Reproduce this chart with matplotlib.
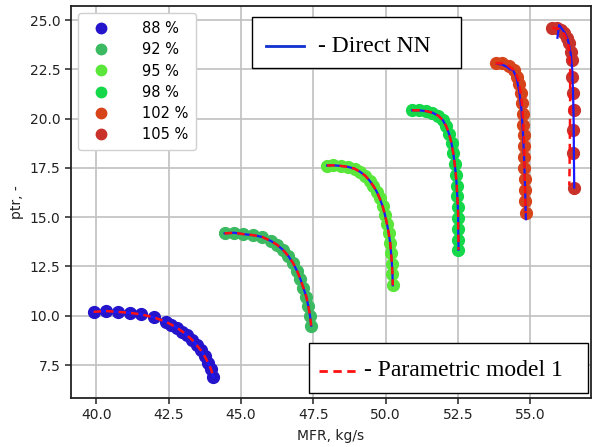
import matplotlib
matplotlib.use("Agg")
import matplotlib.pyplot as plt
from matplotlib.lines import Line2D
from matplotlib.patches import Rectangle

# ---- data ----
speeds = ["88 %", "92 %", "95 %", "98 %", "102 %", "105 %"]
colors = ["#2414cc", "#3cba62", "#5ae63a", "#14d84a", "#d8441a", "#c8322a"]

mfr_88 = [39.91, 40.34, 40.74, 41.16, 41.56, 41.99, 42.40, 42.60, 42.80, 42.98, 43.15, 43.32,
          43.47, 43.62, 43.75, 43.87, 43.97, 44.05]
ptr_88 = [10.20, 10.24, 10.20, 10.15, 10.07, 9.92, 9.70, 9.55, 9.38, 9.20, 9.00, 8.77,
          8.52, 8.24, 7.94, 7.62, 7.28, 6.92]

mfr_92 = [44.44, 44.77, 45.09, 45.41, 45.73, 46.04, 46.25, 46.45, 46.63, 46.80, 46.94, 47.06,
          47.16, 47.26, 47.33, 47.39, 47.43]
ptr_92 = [14.18, 14.21, 14.14, 14.09, 14.00, 13.79, 13.60, 13.35, 13.05, 12.68, 12.28, 11.85,
          11.42, 10.97, 10.50, 10.00, 9.50]

mfr_95 = [47.98, 48.20, 48.45, 48.70, 48.93, 49.12, 49.30, 49.45, 49.58, 49.70, 49.80, 49.90,
          49.98, 50.05, 50.11, 50.16, 50.19, 50.22, 50.24, 50.25]
ptr_95 = [17.62, 17.63, 17.60, 17.55, 17.46, 17.30, 17.10, 16.85, 16.58, 16.28, 15.95, 15.55,
          15.12, 14.65, 14.18, 13.70, 13.20, 12.65, 12.10, 11.55]

mfr_98 = [50.92, 51.15, 51.40, 51.62, 51.82, 51.98, 52.10, 52.20, 52.28, 52.34, 52.39, 52.43,
          52.46, 52.48, 52.50, 52.51, 52.51, 52.52, 52.52]
ptr_98 = [20.42, 20.42, 20.38, 20.30, 20.15, 19.92, 19.60, 19.20, 18.75, 18.25, 17.70, 17.15,
          16.60, 16.05, 15.50, 14.95, 14.40, 13.85, 13.35]

mfr_102 = [53.80, 54.03, 54.26, 54.43, 54.55, 54.62, 54.67, 54.71, 54.74, 54.76, 54.78, 54.79,
           54.80, 54.80, 54.81, 54.82, 54.83, 54.84]
ptr_102 = [22.80, 22.80, 22.66, 22.46, 22.12, 21.75, 21.30, 20.80, 20.25, 19.70, 19.15, 18.60,
           18.05, 17.50, 16.95, 16.40, 15.80, 15.20]

mfr_105 = [55.76, 55.94, 56.05, 56.17, 56.26, 56.34, 56.40, 56.43, 56.46, 56.48, 56.50, 56.49,
           56.48, 56.51]
ptr_105 = [24.57, 24.57, 24.50, 24.32, 24.10, 23.81, 23.40, 22.97, 22.12, 21.28, 20.43, 19.42,
           18.24, 16.46]

# Direct NN lines that differ from the measured points
nn_mfr_102 = [53.85, 54.03, 54.20, 54.30, 54.40, 54.52, 54.62, 54.70, 54.76, 54.80, 54.83, 54.85]
nn_ptr_102 = [22.78, 22.74, 22.62, 22.50, 22.48, 22.10, 21.40, 20.40, 19.00, 17.50, 16.00, 14.90]
nn_mfr_105 = [55.94, 56.00, 56.17, 56.30, 56.40, 56.45, 56.48, 56.50, 56.51, 56.52]
nn_ptr_105 = [24.10, 24.74, 24.40, 24.00, 23.30, 22.50, 21.30, 20.00, 18.00, 16.50]

# Parametric model line that differs from the measured points
pm_mfr_105 = [55.76, 56.00, 56.17, 56.30, 56.36, 56.38, 56.38, 56.37, 56.36, 56.35]
pm_ptr_105 = [24.60, 24.55, 24.30, 23.90, 23.30, 22.50, 21.00, 19.00, 17.50, 16.60]

points_mfr = [mfr_88, mfr_92, mfr_95, mfr_98, mfr_102, mfr_105]
points_ptr = [ptr_88, ptr_92, ptr_95, ptr_98, ptr_102, ptr_105]
nn_mfr = [mfr_88, mfr_92, mfr_95, mfr_98, nn_mfr_102, nn_mfr_105]
nn_ptr = [ptr_88, ptr_92, ptr_95, ptr_98, nn_ptr_102, nn_ptr_105]
pm_mfr = [mfr_88, mfr_92, mfr_95, mfr_98, mfr_102, pm_mfr_105]
pm_ptr = [ptr_88, ptr_92, ptr_95, ptr_98, ptr_102, pm_ptr_105]

xticks = [40.0, 42.5, 45.0, 47.5, 50.0, 52.5, 55.0]
yticks = [7.5, 10.0, 12.5, 15.0, 17.5, 20.0, 22.5, 25.0]

# ---- figure ----
fig = plt.figure(figsize=(5.93, 4.47), dpi=100)
ax = fig.add_axes([71 / 593, 1 - 398 / 447, 520 / 593, 392 / 447])

for lab, c, xs, ys in zip(speeds, colors, points_mfr, points_ptr):
    ax.plot(xs, ys, linestyle="none", marker="o", ms=8.5, color=c, mec=c, label=lab, zorder=3)
for xs, ys in zip(nn_mfr, nn_ptr):
    ax.plot(xs, ys, color="#1a1aff", lw=1.6, zorder=4)
for xs, ys in zip(pm_mfr, pm_ptr):
    ax.plot(xs, ys, color="#ff1010", lw=1.8, linestyle=(0, (3, 2)), zorder=5)

ax.set_xlim(39.13, 57.1)
ax.set_ylim(5.83, 25.71)
ax.set_xticks(xticks)
ax.set_yticks(yticks)
ax.set_xticklabels([f"{v:.1f}" for v in xticks], fontsize=10)
ax.set_yticklabels([f"{v:.1f}" for v in yticks], fontsize=10)
ax.grid(True, color="#c0c0c0", lw=1.2)
ax.set_axisbelow(True)
for s in ax.spines.values():
    s.set_linewidth(1.3)
    s.set_color("#222222")
ax.tick_params(length=4, width=1.1, color="#222222", labelcolor="#222222")
ax.set_xlabel("MFR, kg/s", fontsize=10, color="#222222", labelpad=5)
ax.set_ylabel("ptr, -", fontsize=10, color="#222222", labelpad=4)

leg = ax.legend(loc="upper left", fontsize=10.5, frameon=True, handlelength=2.0,
                handletextpad=1.8, labelspacing=0.42, borderaxespad=0.5,
                borderpad=0.55, fancybox=True, framealpha=1.0, edgecolor="#d0d0d0",
                markerscale=7.5 / 8.5)

# ---- overlaid key boxes ----
def keybox(x0, y0, x1, y1, lx0, lx1, ly, style, color, text, tx):
    fig.patches.append(Rectangle((x0 / 593, 1 - y1 / 447), (x1 - x0) / 593, (y1 - y0) / 447,
                                 transform=fig.transFigure, facecolor="white",
                                 edgecolor="black", lw=1.0, zorder=10))
    fig.lines.append(Line2D([lx0 / 593, lx1 / 593], [1 - ly / 447, 1 - ly / 447],
                            transform=fig.transFigure, color=color, lw=2.0,
                            linestyle=style, zorder=11))
    fig.text(tx / 593, 1 - ly / 447, text, fontsize=17, family="Liberation Serif",
             va="center", ha="left", zorder=12)

keybox(252, 17, 461, 68, 266, 304, 46, "-", "#1030d0", "- Direct NN", 318)
keybox(309, 343, 588, 393, 319, 358, 371, (0, (3, 2)), "#ff1010", "- Parametric model 1", 364)

fig.savefig("out.png", dpi=100)
